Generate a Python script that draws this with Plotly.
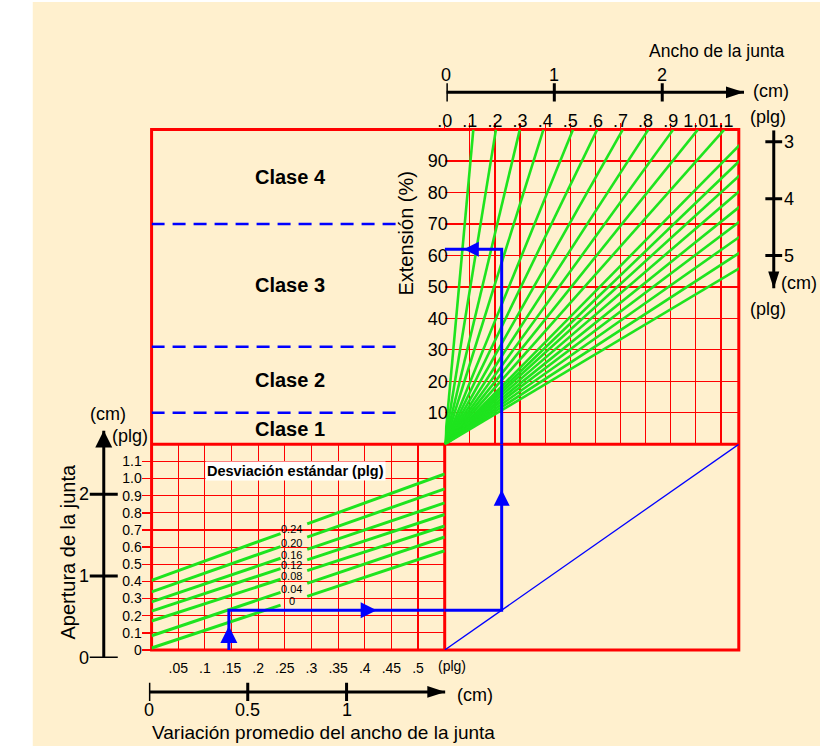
import plotly.graph_objects as go

W, H = 820, 754

# ---------------- data ----------------
# bottom-left panel: average joint-width variation (plg) vs joint opening (plg)
bl_x_tickvals = [0.05, 0.10, 0.15, 0.20, 0.25, 0.30, 0.35, 0.40, 0.45, 0.50]
bl_x_ticktext = [".05", ".1", ".15", ".2", ".25", ".3", ".35", ".4", ".45", ".5"]
bl_y_tickvals = [0, 0.1, 0.2, 0.3, 0.4, 0.5, 0.6, 0.7, 0.8, 0.9, 1.0, 1.1]
bl_y_ticktext = ["0", "0.1", "0.2", "0.3", "0.4", "0.5", "0.6", "0.7", "0.8", "0.9", "1.0", "1.1"]

# standard-deviation lines (plg): opening at x=0 and at x=0.55
sd_labels = ["0", "0.04", "0.08", "0.12", "0.16", "0.20", "0.24"]
sd_y_start = [0.012, 0.083, 0.169, 0.227, 0.281, 0.339, 0.406]
sd_y_end = [0.579, 0.659, 0.723, 0.790, 0.858, 0.940, 1.027]
sd_gap = [0.242, 0.292]
sd_label_x = 0.263

# top-right panel: joint movement (plg) vs extension (%)
tr_x_tickvals = [0, 0.1, 0.2, 0.3, 0.4, 0.5, 0.6, 0.7, 0.8, 0.9, 1.0, 1.1]
tr_x_ticktext = [".0", ".1", ".2", ".3", ".4", ".5", ".6", ".7", ".8", ".9", "1.0", "1.1"]
tr_y_tickvals = [10, 20, 30, 40, 50, 60, 70, 80, 90]

# joint-width fan lines: widths 0.1..1.1 reach 100 % at these movements
fan_top_x = [0.114, 0.204, 0.299, 0.393, 0.511, 0.607, 0.709, 0.811, 0.910, 1.008, 1.113]
# widths 1.2..2.0 leave through the right side at these extensions
fan_right_labels = ["1.2", "1.3", "1.4", "1.5", "1.6", "1.7", "1.8", "1.9", "2.0"]
fan_right_ext = [96.4, 91.3, 86.6, 81.6, 76.5, 71.7, 66.8, 61.7, 56.7]
fan_right_x = 1.19

# sealant classes (extension %)
class_names = ["Clase 1", "Clase 2", "Clase 3", "Clase 4"]
class_bounds = [0, 10, 31, 70, 100]

# cm scales
cm_left_ticks = [0, 1, 2]
cm_bottom_ticks = [0, 0.5, 1]
cm_bottom_text = ["0", "0.5", "1"]
cm_top_ticks = [0, 1, 2]
cm_right_ticks = [3, 4, 5]

# worked example (blue path)
ex_variation = 0.145
ex_opening = 0.2325
ex_extension = 62
ex_arrow_frac = [0.60, 0.685, 0.726, 0.665]

# ---------------- ranges ----------------
BL_X = [0, 0.55]
BL_Y = [0, 1.2]
TR_X = [0, 1.171]
TR_Y = [0, 100]
CM_LEFT = [0, 2.78]
CM_BOTTOM = [0, 1.5]
CM_TOP = [0, 2.758]
CM_RIGHT = [5.58, 2.8]

RED = "#FF0000"
GREEN = "rgb(30,228,30)"
BLUE = "#0000FF"
CREAM = "#FFF0CE"
FONT = "Liberation Sans, Arial, sans-serif"


def fx(p):
    return p / W


def fy(p):
    return 1 - p / H


fig = go.Figure()

# ---- standard deviation lines (bottom-left) ----
for lab, y0, y1 in zip(sd_labels, sd_y_start, sd_y_end):
    slope = (y1 - y0) / BL_X[1]
    xs = [0, sd_gap[0], None, sd_gap[1], BL_X[1]]
    ys = [y0, y0 + slope * sd_gap[0], None, y0 + slope * sd_gap[1], y1]
    fig.add_trace(go.Scatter(x=xs, y=ys, xaxis="x", yaxis="y", mode="lines",
                             line=dict(color=GREEN, width=3), hoverinfo="skip"))

# ---- fan lines (top-right) ----
fxs, fys = [], []
for tx in fan_top_x:
    fxs += [0, tx, None]
    fys += [0, TR_Y[1], None]
for ext in fan_right_ext:
    fxs += [0, fan_right_x, None]
    fys += [0, ext, None]
fig.add_trace(go.Scatter(x=fxs, y=fys, xaxis="x2", yaxis="y2", mode="lines",
                         line=dict(color=GREEN, width=2.6), hoverinfo="skip"))

# ---- class boundaries (top-left) ----
cxs, cys = [], []
for b in class_bounds[1:-1]:
    cxs += [0, 0.839, None]
    cys += [b, b, None]
fig.add_trace(go.Scatter(x=cxs, y=cys, xaxis="x3", yaxis="y3", mode="lines",
                         line=dict(color=BLUE, width=2.5, dash="13px,8px"), hoverinfo="skip"))

# ---- diagonal (bottom-right) ----
fig.add_trace(go.Scatter(x=[TR_X[0], TR_X[1]], y=[BL_Y[0], BL_Y[1]], xaxis="x4", yaxis="y4",
                         mode="lines", line=dict(color=BLUE, width=1.3), hoverinfo="skip"))

# ---- worked example path ----
x_turn = ex_opening * TR_X[1] / BL_Y[1]
fig.add_trace(go.Scatter(x=[ex_variation, ex_variation, BL_X[1]], y=[0, ex_opening, ex_opening],
                         xaxis="x", yaxis="y", mode="lines", line=dict(color=BLUE, width=3),
                         hoverinfo="skip"))
fig.add_trace(go.Scatter(x=[0, x_turn, x_turn], y=[ex_opening, ex_opening, BL_Y[1]],
                         xaxis="x4", yaxis="y4", mode="lines", line=dict(color=BLUE, width=3),
                         hoverinfo="skip"))
fig.add_trace(go.Scatter(x=[x_turn, x_turn, 0], y=[0, ex_extension, ex_extension],
                         xaxis="x2", yaxis="y2", mode="lines", line=dict(color=BLUE, width=3),
                         hoverinfo="skip"))
# arrowheads along the path
f0, f1, f2, f3 = ex_arrow_frac
fig.add_trace(go.Scatter(x=[ex_variation], y=[ex_opening * f0], xaxis="x", yaxis="y",
                         mode="markers", marker=dict(symbol="arrow-up", size=17, color=BLUE),
                         hoverinfo="skip"))
fig.add_trace(go.Scatter(x=[ex_variation + (BL_X[1] - ex_variation) * f1], y=[ex_opening],
                         xaxis="x", yaxis="y", mode="markers",
                         marker=dict(symbol="arrow-right", size=16, color=BLUE), hoverinfo="skip"))
fig.add_trace(go.Scatter(x=[x_turn], y=[ex_opening + (BL_Y[1] - ex_opening) * f2],
                         xaxis="x4", yaxis="y4", mode="markers",
                         marker=dict(symbol="arrow-up", size=16, color=BLUE), hoverinfo="skip"))
fig.add_trace(go.Scatter(x=[x_turn * (1 - f3)], y=[ex_extension], xaxis="x2", yaxis="y2",
                         mode="markers", marker=dict(symbol="arrow-left", size=15, color=BLUE),
                         hoverinfo="skip"))

# ---- cm scales ----
# left (vertical, up)
fig.add_trace(go.Scatter(x=[0, 0], y=CM_LEFT, xaxis="x5", yaxis="y5", mode="lines",
                         line=dict(color="black", width=3), hoverinfo="skip"))
fig.add_trace(go.Scatter(x=[0] * len(cm_left_ticks), y=cm_left_ticks, xaxis="x5", yaxis="y5",
                         mode="markers", marker=dict(symbol="line-ew", size=20,
                                                     line=dict(color="black", width=3)),
                         hoverinfo="skip"))
fig.add_trace(go.Scatter(x=[0], y=[CM_LEFT[1]], xaxis="x5", yaxis="y5", mode="markers",
                         marker=dict(symbol="arrow-up", size=17, color="black"), hoverinfo="skip"))
# bottom (horizontal, right)
fig.add_trace(go.Scatter(x=CM_BOTTOM, y=[0, 0], xaxis="x6", yaxis="y6", mode="lines",
                         line=dict(color="black", width=3), hoverinfo="skip"))
fig.add_trace(go.Scatter(x=cm_bottom_ticks, y=[0] * len(cm_bottom_ticks), xaxis="x6", yaxis="y6",
                         mode="markers", marker=dict(symbol="line-ns", size=13,
                                                     line=dict(color="black", width=3)),
                         hoverinfo="skip"))
fig.add_trace(go.Scatter(x=[CM_BOTTOM[1]], y=[0], xaxis="x6", yaxis="y6", mode="markers",
                         marker=dict(symbol="arrow", angle=90, size=19, color="black"),
                         hoverinfo="skip"))
# top (horizontal, right)
fig.add_trace(go.Scatter(x=CM_TOP, y=[0, 0], xaxis="x7", yaxis="y7", mode="lines",
                         line=dict(color="black", width=3), hoverinfo="skip"))
fig.add_trace(go.Scatter(x=cm_top_ticks, y=[0] * len(cm_top_ticks), xaxis="x7", yaxis="y7",
                         mode="markers", marker=dict(symbol="line-ns", size=13,
                                                     line=dict(color="black", width=3)),
                         hoverinfo="skip"))
fig.add_trace(go.Scatter(x=[CM_TOP[1]], y=[0], xaxis="x7", yaxis="y7", mode="markers",
                         marker=dict(symbol="arrow", angle=90, size=19, color="black"),
                         hoverinfo="skip"))
# right (vertical, down)
fig.add_trace(go.Scatter(x=[0, 0], y=[CM_RIGHT[1], CM_RIGHT[0]], xaxis="x8", yaxis="y8",
                         mode="lines", line=dict(color="black", width=3), hoverinfo="skip"))
fig.add_trace(go.Scatter(x=[0] * len(cm_right_ticks), y=cm_right_ticks, xaxis="x8", yaxis="y8",
                         mode="markers", marker=dict(symbol="line-ew", size=12,
                                                     line=dict(color="black", width=3)),
                         hoverinfo="skip"))
fig.add_trace(go.Scatter(x=[0], y=[CM_RIGHT[0]], xaxis="x8", yaxis="y8", mode="markers",
                         marker=dict(symbol="arrow", angle=180, size=18, color="black"),
                         hoverinfo="skip"))

# ---------------- annotations ----------------
ann = []


def pann(text, px, py, size, **kw):
    d = dict(text=text, x=fx(px), y=fy(py), xref="paper", yref="paper", showarrow=False,
             font=dict(size=size, color="black"), xanchor="center", yanchor="middle")
    d.update(kw)
    ann.append(d)


pann("Ancho de la junta", 716, 52, 17.5)
pann("(cm)", 771, 92, 18)
pann("(plg)", 767, 118, 18)
pann("(cm)", 799, 286, 18)
pann("(plg)", 767, 312, 18)
pann("(cm)", 101, 418, 18)
pann("(plg)", 123, 441, 18)
pann("(plg)", 448, 673, 14)
pann("(cm)", 472, 702, 18)
pann("Variación promedio del ancho de la junta", 319, 740, 19)
pann("Apertura de la junta", 61, 558, 20, textangle=-90)
pann("Extensión (%)", 402, 236, 20, textangle=-90)
pann("<b>Desviación estándar (plg)</b>", 290, 476, 14.5, bgcolor="white", borderpad=1)

# class labels centred between boundaries
for i, name in enumerate(class_names):
    ann.append(dict(text="<b>" + name + "</b>", x=fx(285), xref="paper",
                    y=(class_bounds[i] + class_bounds[i + 1]) / 2, yref="y3",
                    showarrow=False, font=dict(size=20, color="black"),
                    xanchor="center", yanchor="middle"))

# standard deviation labels
for lab, y0, y1 in zip(sd_labels, sd_y_start, sd_y_end):
    ann.append(dict(text=lab, x=sd_label_x, y=y0 + (y1 - y0) * sd_label_x / BL_X[1],
                    xref="x", yref="y", showarrow=False, font=dict(size=11, color="black"),
                    xanchor="center", yanchor="middle", borderpad=0))

# right fan labels
for lab, ext in zip(fan_right_labels, fan_right_ext):
    ann.append(dict(text=lab, x=fan_right_x, y=ext, xref="x2", yref="y2", xshift=11,
                    showarrow=False, font=dict(size=14, color="black"),
                    xanchor="left", yanchor="middle"))

# cm tick labels
for v in cm_left_ticks:
    ann.append(dict(text=str(v), x=0, y=v, xref="x5", yref="y5", xshift=-13, showarrow=False,
                    font=dict(size=18, color="black"), xanchor="right", yanchor="middle"))
for v, t in zip(cm_bottom_ticks, cm_bottom_text):
    ann.append(dict(text=t, x=v, y=0, xref="x6", yref="y6", yshift=-18, showarrow=False,
                    font=dict(size=18, color="black"), xanchor="center", yanchor="middle"))
for v in cm_top_ticks:
    ann.append(dict(text=str(v), x=v, y=0, xref="x7", yref="y7", yshift=17, showarrow=False,
                    font=dict(size=18, color="black"), xanchor="center", yanchor="middle"))
for v in cm_right_ticks:
    ann.append(dict(text=str(v), x=0, y=v, xref="x8", yref="y8", xshift=8, showarrow=False,
                    font=dict(size=18, color="black"), xanchor="left", yanchor="middle"))

# ---------------- shapes ----------------
shapes = [
    dict(type="rect", xref="paper", yref="paper", x0=fx(25), x1=1, y0=0, y1=fy(2),
         fillcolor=CREAM, line=dict(width=0), layer="below"),
    dict(type="rect", xref="paper", yref="paper", x0=fx(145), x1=fx(738), y0=fy(657), y1=fy(131),
         line=dict(color=RED, width=3), layer="below"),
    dict(type="line", xref="paper", yref="paper", x0=fx(145), x1=fx(738), y0=fy(449), y1=fy(449),
         line=dict(color=RED, width=3), layer="below"),
    dict(type="line", xref="paper", yref="paper", x0=fx(441), x1=fx(441), y0=fy(657), y1=fy(449),
         line=dict(color=RED, width=3), layer="below"),
]

# ---------------- axes ----------------
grid_kw = dict(showgrid=True, gridcolor=RED, gridwidth=1.2, zeroline=False, showline=False,
               fixedrange=True, tickmode="array", tickangle=0)
hidden = dict(visible=False, showgrid=False, zeroline=False, fixedrange=True)

fig.update_layout(
    width=W, height=H, margin=dict(l=0, r=0, t=0, b=0, pad=0), autosize=False,
    paper_bgcolor="white", plot_bgcolor="rgba(0,0,0,0)",
    showlegend=False, font=dict(family=FONT, color="black"),
    annotations=ann, shapes=shapes,
    xaxis=dict(domain=[fx(145), fx(441)], range=BL_X, anchor="y",
               tickvals=bl_x_tickvals, ticktext=bl_x_ticktext,
               ticks="outside", ticklen=5, tickcolor="rgba(0,0,0,0)",
               tickfont=dict(size=14), **grid_kw),
    yaxis=dict(domain=[fy(657), fy(449)], range=BL_Y, anchor="x",
               tickvals=bl_y_tickvals, ticktext=bl_y_ticktext,
               ticks="outside", ticklen=9, tickcolor=RED, tickwidth=1.5,
               ticklabelstandoff=-3, tickfont=dict(size=14), **grid_kw),
    xaxis2=dict(domain=[fx(441), fx(738)], range=TR_X, anchor="y2", side="top",
                tickvals=tr_x_tickvals, ticktext=tr_x_ticktext,
                ticks="outside", ticklen=6, tickcolor=RED, tickwidth=1.2,
                ticklabelstandoff=-12, tickfont=dict(size=18), **grid_kw),
    yaxis2=dict(domain=[fy(449), fy(131)], range=TR_Y, anchor="x2",
                tickvals=tr_y_tickvals, ticks="", ticklabelstandoff=-4,
                tickfont=dict(size=18), **grid_kw),
    xaxis3=dict(domain=[fx(145), fx(441)], range=[0, 1], anchor="y3", **hidden),
    yaxis3=dict(domain=[fy(449), fy(131)], range=TR_Y, anchor="x3", **hidden),
    xaxis4=dict(domain=[fx(441), fx(738)], range=TR_X, anchor="y4", **hidden),
    yaxis4=dict(domain=[fy(657), fy(449)], range=BL_Y, anchor="x4", **hidden),
    xaxis5=dict(domain=[fx(80), fx(113.4)], range=[-1, 1], anchor="y5", **hidden),
    yaxis5=dict(domain=[fy(665), fy(435)], range=CM_LEFT, anchor="x5", **hidden),
    xaxis6=dict(domain=[fx(142.3), fx(441.7)], range=CM_BOTTOM, anchor="y6", **hidden),
    yaxis6=dict(domain=[fy(709.3), fy(689.3)], range=[-1, 1], anchor="x6", **hidden),
    xaxis7=dict(domain=[fx(442.7), fx(743.3)], range=CM_TOP, anchor="y7", **hidden),
    yaxis7=dict(domain=[fy(103.3), fy(83.3)], range=[-1, 1], anchor="x7", **hidden),
    xaxis8=dict(domain=[fx(763.3), fx(783.3)], range=[-1, 1], anchor="y8", **hidden),
    yaxis8=dict(domain=[fy(291.7), fy(131.7)], range=CM_RIGHT, anchor="x8", **hidden),
)

fig.write_html(
    "out.html",
    config={"displayModeBar": False, "staticPlot": True},
    post_script="document.body.style.margin='0';document.body.style.padding='0';"
                "document.body.style.overflow='hidden';"
                "document.documentElement.style.overflow='hidden';"
                "var gd=document.getElementById('{plot_id}');"
                "gd.style.position='fixed';gd.style.left='0px';gd.style.top='0px';",
)
